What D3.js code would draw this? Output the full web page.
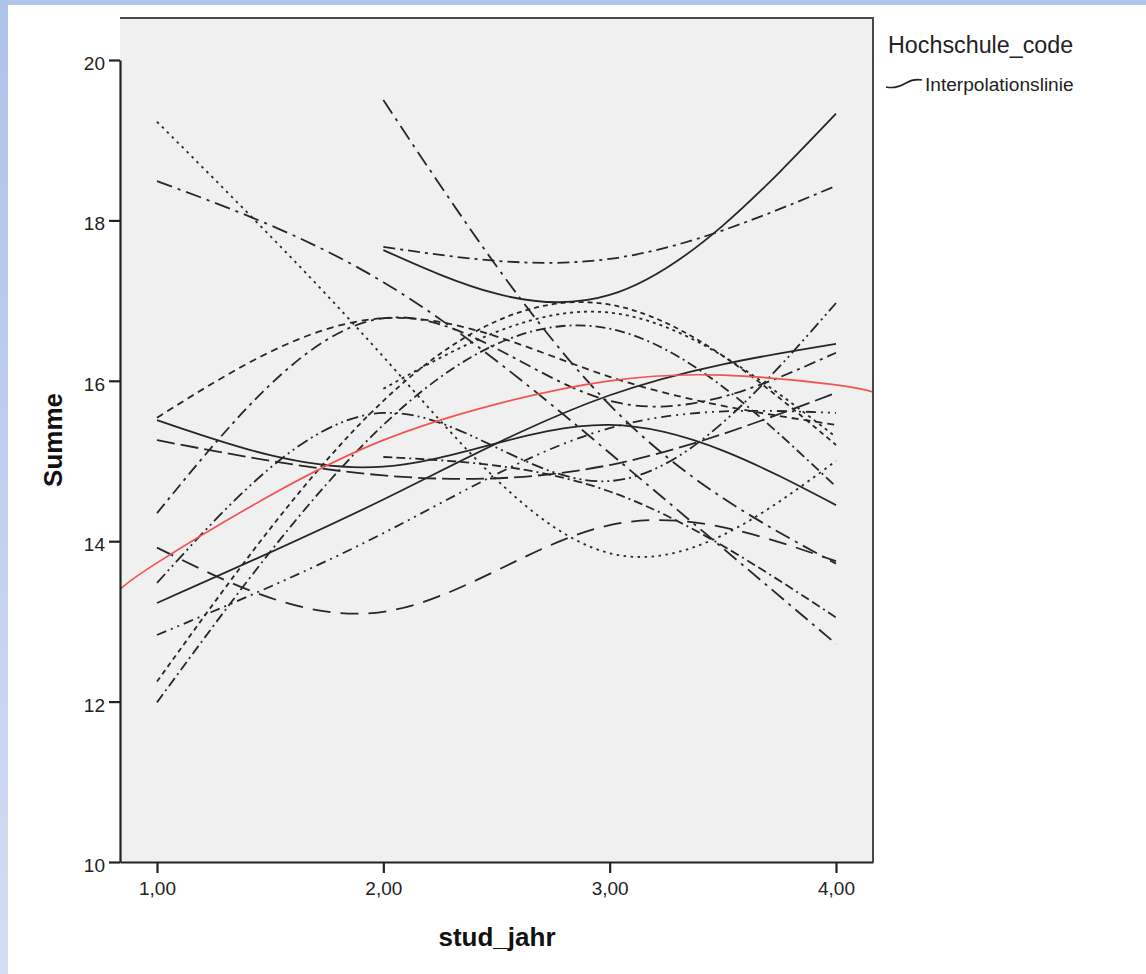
<!DOCTYPE html>
<html><head><meta charset="utf-8">
<script src="https://cdn.jsdelivr.net/npm/d3@7"></script>
<style>html,body{margin:0;padding:0;background:#fff;}svg{display:block;}</style>
</head><body>
<script>
// ---- data ----
const studJahr = [1, 2, 3, 4];
const yTicks = [10, 12, 14, 16, 18, 20];
const xTicks = [1, 2, 3, 4];
// per Hochschule_code group: Summe at stud_jahr 1..4 (null = no value)
const g01 = [19.23, 16.30, 13.85, 15.00];
const g02 = [18.49, 17.23, 15.10, 12.72];
const g03 = [15.54, 16.78, 16.05, 15.45];
const g04 = [15.51, 14.93, 15.45, 14.45];
const g05 = [15.26, 14.82, 14.95, 15.85];
const g06 = [14.35, 16.78, 15.75, 16.35];
const g07 = [13.92, 13.12, 14.20, 13.75];
const g08 = [13.48, 15.60, 14.75, 16.97];
const g09 = [13.23, 14.52, 15.82, 16.46];
const g10 = [12.83, 14.10, 15.41, 15.60];
const g11 = [12.25, 15.75, 16.95, 15.20];
const g12 = [11.99, 15.45, 16.65, 14.68];
const g13 = [null, 17.63, 17.07, 19.33];
const g14 = [null, 17.67, 17.52, 18.43];
const g15 = [null, 19.50, 15.70, 13.72];
const g16 = [null, 15.90, 16.85, 15.30];
const g17 = [null, 15.05, 14.62, 13.05];
// overall interpolation line (red)
const fitX = [0.8365, 1, 1.5, 2, 2.5, 3, 3.5, 4, 4.1635];
const fitY = [13.40, 13.73, 14.57, 15.26, 15.71, 16.00, 16.07, 15.95, 15.86];

const groups = [g01,g02,g03,g04,g05,g06,g07,g08,g09,g10,g11,g12,g13,g14,g15,g16,g17];
const dashStyles = ["2.5,4.5","16,6,3,6","7,5",null,"18,6","12,5,3,5","18,10","12,4,2,4,2,4",
                    null,"10,5,2,5,2,5","5,4","10,4,2,4",null,"12,5,3,5","16,6,3,6","3,4","9,4,9,4,2,4"];

// ---- layout ----
const W = 1146, H = 974;
const L = 120, R = 873, T = 18, B = 862;
const svg = d3.select("body").append("svg").attr("width", W).attr("height", H);
const defs = svg.append("defs");
const grad = defs.append("linearGradient").attr("id","lg").attr("x1",0).attr("y1",0).attr("x2",0).attr("y2",1);
grad.append("stop").attr("offset","0%").attr("stop-color","#adc3e8");
grad.append("stop").attr("offset","100%").attr("stop-color","#d3ddf3");
svg.append("rect").attr("width",W).attr("height",H).attr("fill","#fff");
svg.append("rect").attr("x",0).attr("y",0).attr("width",W).attr("height",5).attr("fill","#b0c5e9");
svg.append("rect").attr("x",0).attr("y",0).attr("width",8).attr("height",H).attr("fill","url(#lg)");

const x = d3.scaleLinear().domain([0.8365, 4.1635]).range([L, R]);
const y = d3.scaleLinear().domain([10, 20]).range([B, 60]);

defs.append("clipPath").attr("id","clip").append("rect").attr("x",L).attr("y",T).attr("width",R-L).attr("height",B-T);
svg.append("rect").attr("x",L).attr("y",T).attr("width",R-L).attr("height",B-T).attr("fill","#f0f0f0");

const font = "'Liberation Sans', Arial, sans-serif";
const line = d3.line().x(d => x(d[0])).y(d => y(d[1])).curve(d3.curveNatural);
const gLines = svg.append("g").attr("clip-path","url(#clip)");
groups.forEach((vals, i) => {
  const pts = studJahr.map((s, k) => [s, vals[k]]).filter(p => p[1] != null);
  gLines.append("path").attr("d", line(pts)).attr("fill","none")
    .attr("stroke","#262626").attr("stroke-width",1.8)
    .attr("stroke-dasharray", dashStyles[i]);
});
gLines.append("path").attr("d", line(fitX.map((v,k)=>[v, fitY[k]])))
  .attr("fill","none").attr("stroke","#f25353").attr("stroke-width",1.7);

// frame top/right
svg.append("path").attr("d",`M${L},${T}H${R}V${B}`).attr("fill","none").attr("stroke","#4a4a4a").attr("stroke-width",2);

// axes
const yAxis = svg.append("g").attr("transform",`translate(${L},0)`)
  .call(d3.axisLeft(y).tickValues(yTicks).tickSize(11).tickSizeOuter(0).tickFormat(d3.format("d")));
const xAxis = svg.append("g").attr("transform",`translate(0,${B})`)
  .call(d3.axisBottom(x).tickValues(xTicks).tickSize(11).tickSizeOuter(0).tickFormat(d => d3.format(".2f")(d).replace(".", ",")));
[yAxis, xAxis].forEach(a => {
  a.select(".domain").attr("stroke","#222").attr("stroke-width",2.2);
  a.selectAll(".tick line").attr("stroke","#222").attr("stroke-width",2.2);
  a.selectAll(".tick text").attr("font-family",font).attr("font-size",19).attr("fill","#222");
});
yAxis.selectAll(".tick text").attr("x",-15).attr("dy","0.5em");
xAxis.selectAll(".tick text").attr("y",20).attr("dy","0.71em");

// axis titles
svg.append("text").attr("x", 497).attr("y", 946).attr("text-anchor","middle")
  .attr("font-family",font).attr("font-weight","bold").attr("font-size",26).attr("fill","#111").text("stud_jahr");
svg.append("text").attr("transform","translate(62,440) rotate(-90)").attr("text-anchor","middle")
  .attr("font-family",font).attr("font-weight","bold").attr("font-size",26).attr("fill","#111").text("Summe");

// legend
svg.append("text").attr("x",888).attr("y",53).attr("font-family",font).attr("font-size",23.3).attr("fill","#222").text("Hochschule_code");
svg.append("path").attr("d","M886,87 C895,89 901,86 906,83 C911,80 916,79 922,80").attr("fill","none").attr("stroke","#222").attr("stroke-width",1.6);
svg.append("text").attr("x",925).attr("y",91).attr("font-family",font).attr("font-size",19.1).attr("fill","#222").text("Interpolationslinie");
</script>
</body></html>
